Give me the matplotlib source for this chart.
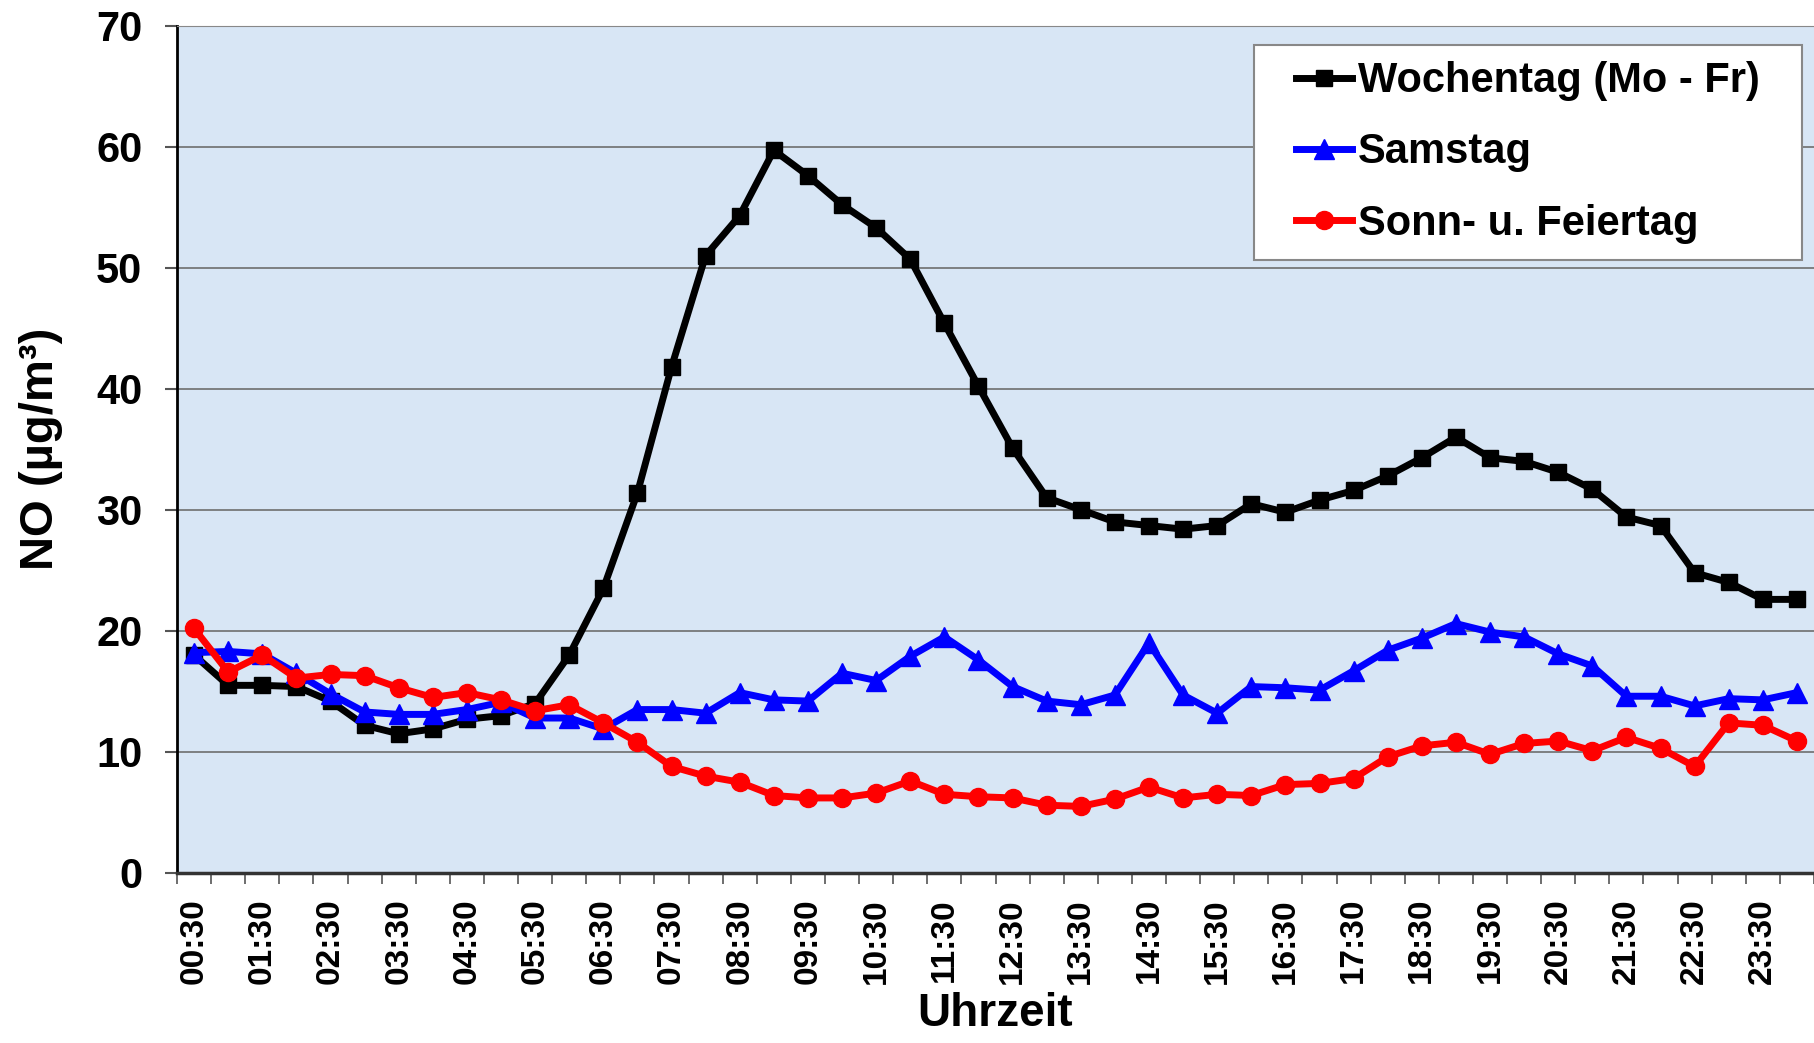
import numpy as np
import matplotlib
matplotlib.use("Agg")
import matplotlib.pyplot as plt
from matplotlib.patches import Rectangle

# --- DATA ---
times = ["00:30", "01:00", "01:30", "02:00", "02:30", "03:00", "03:30", "04:00",
         "04:30", "05:00", "05:30", "06:00", "06:30", "07:00", "07:30", "08:00",
         "08:30", "09:00", "09:30", "10:00", "10:30", "11:00", "11:30", "12:00",
         "12:30", "13:00", "13:30", "14:00", "14:30", "15:00", "15:30", "16:00",
         "16:30", "17:00", "17:30", "18:00", "18:30", "19:00", "19:30", "20:00",
         "20:30", "21:00", "21:30", "22:00", "22:30", "23:00", "23:30", "24:00"]

wochentag = [18.0, 15.5, 15.5, 15.4, 14.2, 12.2, 11.5, 11.9, 12.7, 13.0, 14.0, 18.0,
             23.5, 31.4, 41.8, 51.0, 54.3, 59.7, 57.6, 55.2, 53.3, 50.7, 45.4, 40.2,
             35.1, 31.0, 30.0, 29.0, 28.7, 28.4, 28.7, 30.5, 29.8, 30.8, 31.6, 32.8,
             34.3, 36.0, 34.3, 34.0, 33.1, 31.7, 29.4, 28.7, 24.8, 24.0, 22.6, 22.6]

samstag = [18.2, 18.3, 18.1, 16.5, 14.8, 13.3, 13.1, 13.1, 13.5, 14.1, 12.8, 12.8,
           11.9, 13.5, 13.5, 13.2, 14.9, 14.3, 14.2, 16.5, 15.9, 17.9, 19.5, 17.6,
           15.4, 14.2, 13.9, 14.7, 19.0, 14.7, 13.2, 15.4, 15.3, 15.1, 16.7, 18.4,
           19.4, 20.6, 19.9, 19.5, 18.1, 17.1, 14.6, 14.6, 13.8, 14.4, 14.3, 14.9]

sonntag = [20.2, 16.6, 18.0, 16.1, 16.4, 16.3, 15.3, 14.5, 14.9, 14.3, 13.4, 13.9,
           12.4, 10.8, 8.8, 8.0, 7.5, 6.4, 6.2, 6.2, 6.6, 7.6, 6.5, 6.3,
           6.2, 5.6, 5.5, 6.1, 7.1, 6.2, 6.5, 6.4, 7.3, 7.4, 7.8, 9.6,
           10.5, 10.8, 9.8, 10.7, 10.9, 10.1, 11.2, 10.3, 8.8, 12.4, 12.2, 10.9]

labels = ["Wochentag (Mo - Fr)", "Samstag", "Sonn- u. Feiertag"]

plt.rcParams['font.family'] = ['Liberation Sans', 'DejaVu Sans']
plt.rcParams['font.weight'] = 'bold'

fig = plt.figure(figsize=(18.14, 10.43), dpi=100)
ax = fig.add_axes([0.0976, 0.163, 0.9024, 0.8125])
ax.set_facecolor("#d8e6f5")

x = np.arange(len(times))
ax.plot(x, wochentag, color="black", lw=5, marker="s", ms=12, label=labels[0], zorder=2)
ax.plot(x, samstag, color="#0000ff", lw=5, marker="^", ms=14, label=labels[1], zorder=3)
ax.plot(x, sonntag, color="#ff0000", lw=5, marker="o", ms=13, label=labels[2], zorder=4)

ax.set_xlim(-0.5, len(times) - 0.5)
ax.set_ylim(0, 70)
ax.set_yticks(range(0, 71, 10))
ax.grid(axis="y", color="#6e6e6e", lw=1.2)
ax.set_axisbelow(True)

ax.set_xticks(x[::2])
ax.set_xticklabels(times[::2], rotation=90, fontsize=24, fontweight="bold")
ax.set_xticks(np.arange(-0.5, len(times), 1), minor=True)
ax.tick_params(axis="x", which="major", length=0, pad=18)
ax.tick_params(axis="x", which="minor", length=8, width=1.2, color="#555555")
ax.tick_params(axis="y", labelsize=30, length=9, width=1.5, pad=16, color="#555555")

ax.spines["right"].set_visible(False)
ax.spines["top"].set_color("#888888")
ax.spines["left"].set_linewidth(2)
ax.spines["bottom"].set_linewidth(2.5)
ax.spines["bottom"].set_color("#333333")

ax.set_xlabel("Uhrzeit", fontsize=33, fontweight="bold", labelpad=6)
ax.set_ylabel("NO (µg/m³)", fontsize=34, fontweight="bold", labelpad=24)

# legend without own frame; a box with wider side margins is drawn around it
leg = ax.legend(loc="upper right", bbox_to_anchor=(0.967, 0.958), fontsize=30,
                frameon=False, handlelength=1.35, handletextpad=0.15,
                borderpad=0, labelspacing=0.75, borderaxespad=0)
leg.set_zorder(6)
for t in leg.get_texts():
    t.set_fontweight("bold")

fig.canvas.draw()
bb = leg.get_window_extent().transformed(ax.transAxes.inverted())
px = 42 / ax.bbox.width
py = 16 / ax.bbox.height
ax.add_patch(Rectangle((bb.x0 - px, bb.y0 - py), bb.width + 2 * px, bb.height + 2 * py,
                       transform=ax.transAxes, facecolor="white", edgecolor="#888888",
                       lw=1.5, zorder=5, clip_on=False))

fig.savefig("out.png", dpi=100)
